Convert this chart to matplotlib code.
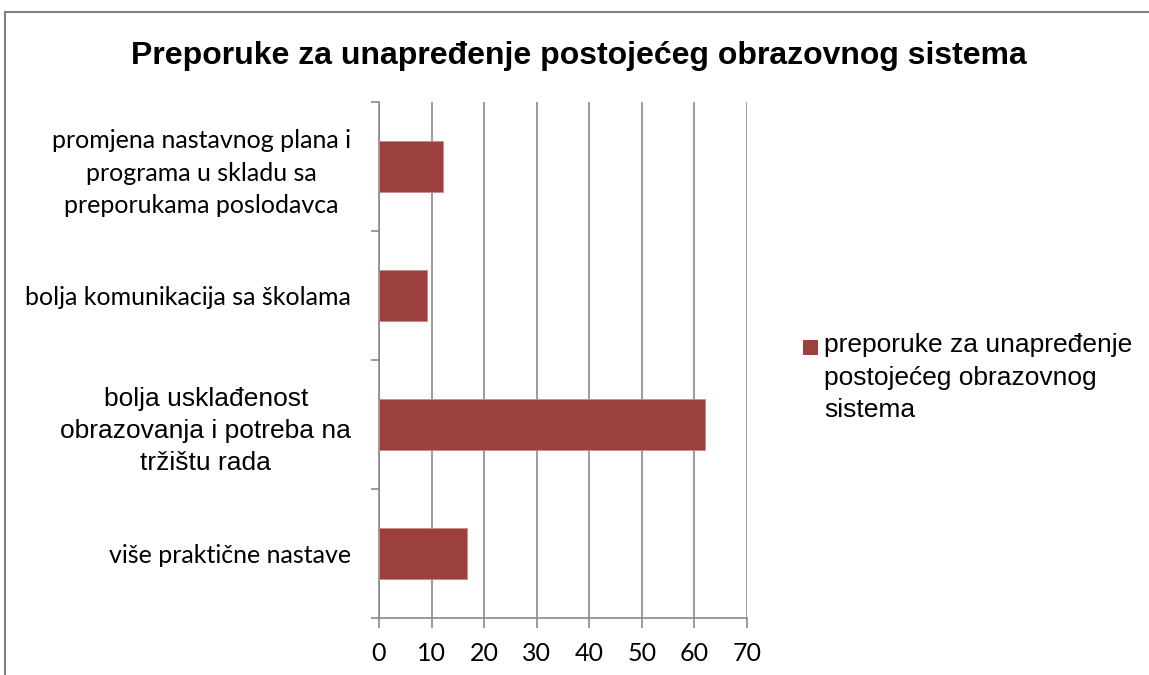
import matplotlib
matplotlib.use("Agg")
import matplotlib.pyplot as plt
from matplotlib.lines import Line2D
from matplotlib.patches import Rectangle
import numpy as np

title = "Preporuke za unapređenje postojećeg obrazovnog sistema"
series_name = "preporuke za unapređenje\npostojećeg obrazovnog\nsistema"
categories = [
    "promjena nastavnog plana i\nprograma u skladu sa\npreporukama poslodavca",
    "bolja komunikacija sa školama",
    "bolja usklađenost\nobrazovanja i potreba na\ntržištu rada",
    "više praktične nastave",
]
values = [12.1, 9.2, 62.1, 16.7]
xticks = [0, 10, 20, 30, 40, 50, 60, 70]

bar_color = "#9c403d"
grid_color = "#8a8a8a"

fig = plt.figure(figsize=(11.49, 6.75), dpi=100)
ax = fig.add_axes([379/1149, 1 - 618/675, (747-379)/1149, (618-102)/675])

y = np.arange(len(categories))
ax.barh(y, values, height=0.4, color=bar_color, edgecolor="#c98a88", linewidth=0.6,
        label=series_name, zorder=3)

ax.set_xlim(0, 70)
ax.set_ylim(len(categories) - 0.5, -0.5)
ax.set_xticks(xticks)
ax.set_xticklabels([str(t) for t in xticks], fontfamily="Lato", fontsize=18)
ax.xaxis.grid(True, color=grid_color, linewidth=1.2, zorder=0)
ax.tick_params(axis="x", length=7, width=1.2, color=grid_color, pad=10)

ax.set_yticks(y)
ax.set_yticklabels(categories, fontfamily="Lato", fontsize=18, ha="right",
                   multialignment="center", linespacing=1.5)
for i, lab in enumerate(ax.get_yticklabels()):
    if i == 2:
        lab.set_fontfamily("Liberation Sans")
        lab.set_fontsize(19)
        lab.set_linespacing(1.42)
ax.tick_params(axis="y", which="major", length=0, pad=20)
ax.set_yticks(np.arange(-0.5, len(categories), 1.0), minor=True)
ax.tick_params(axis="y", which="minor", length=6, width=1.2, color=grid_color)

for s in ["top", "right"]:
    ax.spines[s].set_visible(False)
for s in ["left", "bottom"]:
    ax.spines[s].set_color(grid_color)
    ax.spines[s].set_linewidth(1.2)

fig.text(579/1149, 1 - 56/675, title, ha="center", va="center",
         fontfamily="Liberation Sans", fontweight="bold", fontsize=23)

# legend (marker aligned with first line of the label)
fig.add_artist(Rectangle((803/1149, 1 - 355/675), 15/1149, 15/675,
                         transform=fig.transFigure, facecolor=bar_color,
                         edgecolor="none"))
fig.text(824/1149, 1 - 333/675, series_name, ha="left", va="top",
         fontfamily="Liberation Sans", fontsize=19, linespacing=1.45)

# outer chart border (top and left visible)
fig.add_artist(Line2D([5/1149, 5/1149], [0, 1 - 12/675], transform=fig.transFigure,
                      color="#808080", linewidth=1.5))
fig.add_artist(Line2D([5/1149, 1], [1 - 12/675, 1 - 12/675], transform=fig.transFigure,
                      color="#808080", linewidth=1.5))

fig.savefig("out.png", dpi=100)
